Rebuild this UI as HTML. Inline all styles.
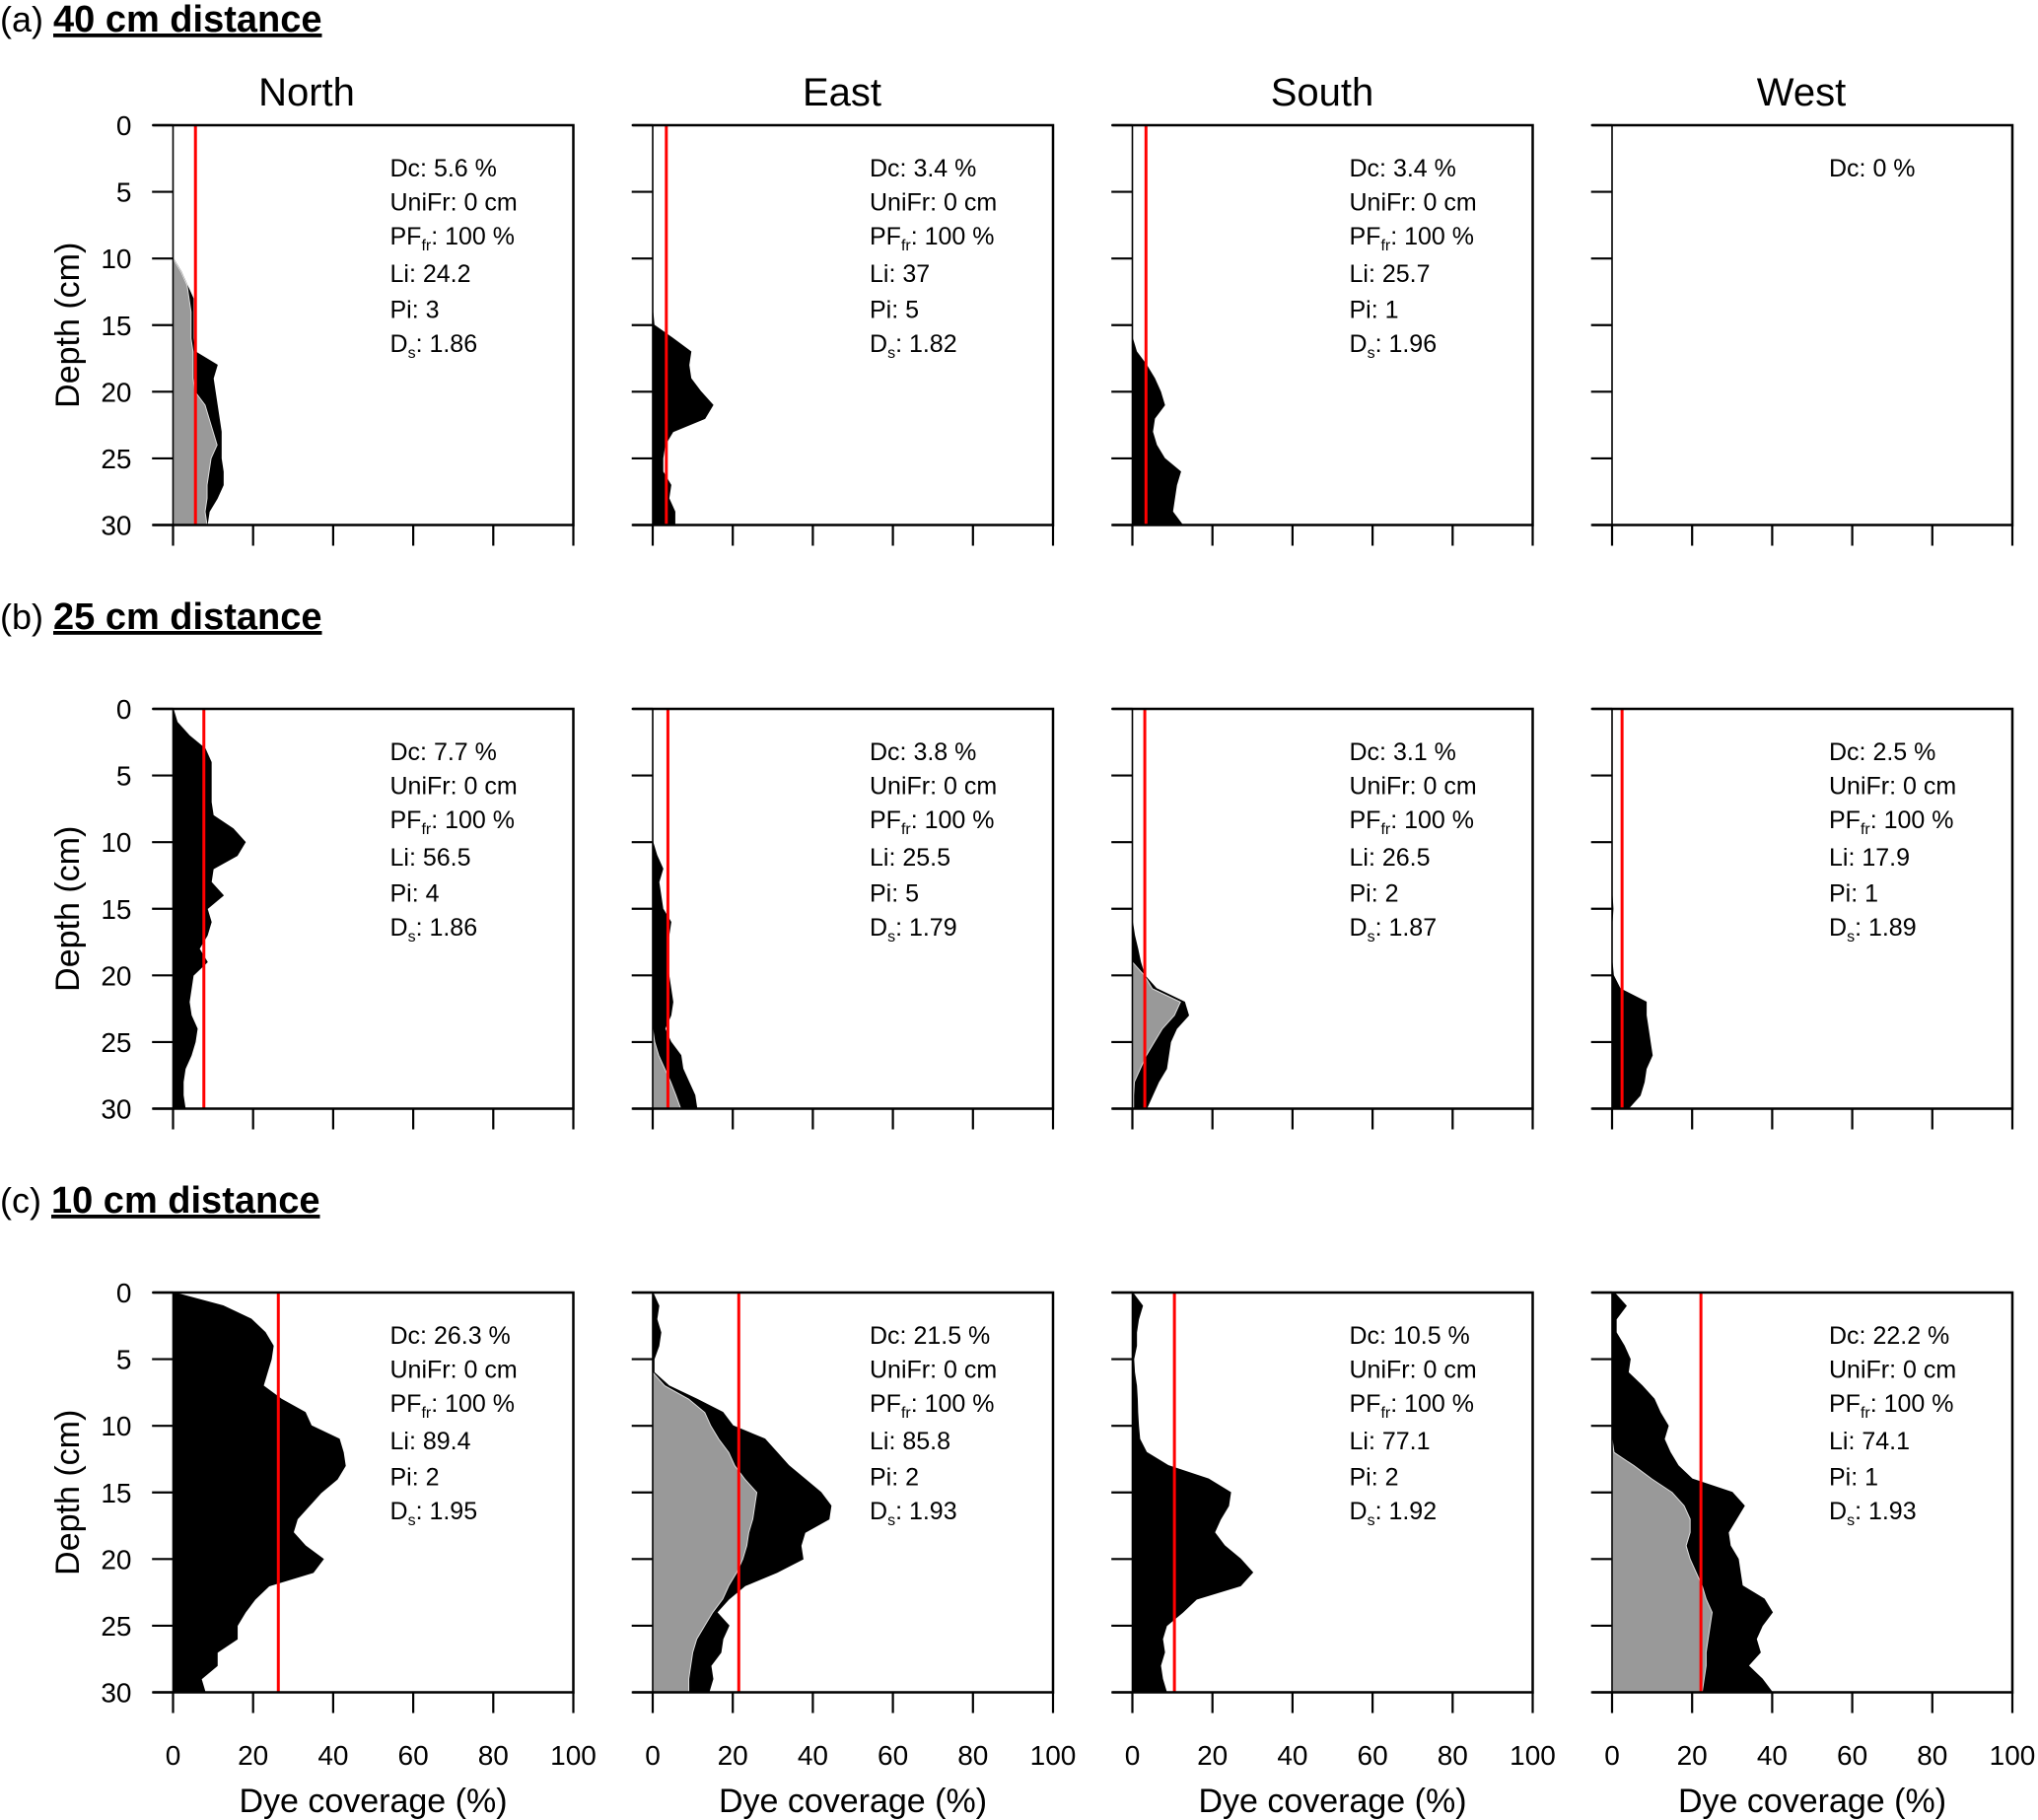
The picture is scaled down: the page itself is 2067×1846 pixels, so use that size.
<!DOCTYPE html>
<html><head><meta charset="utf-8"><style>
html,body{margin:0;padding:0;background:#fff}
svg{display:block;font-family:"Liberation Sans",sans-serif}
</style></head><body>
<svg id="fig" width="2067" height="1846" viewBox="0 0 2067 1846" xmlns="http://www.w3.org/2000/svg"></svg>
<script>
const depths=[0,1,2,3,4,5,6,7,8,9,10,11,12,13,14,15,16,17,18,19,20,21,22,23,24,25,26,27,28,29,30];
const rowTitles=["40 cm distance","25 cm distance","10 cm distance"];
const rowLetters=["(a)","(b)","(c)"];
const colNames=["North","East","South","West"];
const xTicks=[0,20,40,60,80,100];
const yTicks=[0,5,10,15,20,25,30];
// row a
const aN_black=[0,0,0,0,0,0,0,0,0,0,0,2,3.5,5,5,5,5,5.5,11,10,10.5,11,11.5,12,12,12,12.5,12.5,11,9,8.5];
const aN_grey=[0,0,0,0,0,0,0,0,0,0,0,2,3.5,4,4.5,4.5,4.5,5,5,5,5.5,8,9,10,11,9.5,9,8.5,8.5,8,8.5];
const aE_black=[0,0,0,0,0,0,0,0,0,0,0,0,0,0,0,0.3,5,9.5,9,9.5,12,15,13,5,3,2.5,2.5,4.5,4,5.5,5.5];
const aS_black=[0,0,0,0,0,0,0,0,0,0,0,0,0,0,0,0,0,1,3.5,5.5,7,8,5.5,5,6,8,12,11,10.5,10,12.5];
const aW_black=[0,0,0,0,0,0,0,0,0,0,0,0,0,0,0,0,0,0,0,0,0,0,0,0,0,0,0,0,0,0,0];
// row b
const bN_black=[0,1,4,8,9.5,9.5,9.5,9.5,10,15,18,16,10,9.5,12.5,8.5,9.5,8.5,6.5,8.5,5,4.5,4,4.5,6,5.5,4.5,3,2.5,2.5,3];
const bE_black=[0,0,0,0,0,0,0,0,0,0,0,1,2.5,1.5,2,2.5,4.5,4,3.5,3.5,4,4.5,5,4.5,3,4.5,7,7.5,9,10.5,11];
const bE_grey=[0,0,0,0,0,0,0,0,0,0,0,0,0,0,0,0,0,0,0,0,0,0,0,0,0,0.5,1.5,3,4.5,5.8,7];
const bS_black=[0,0,0,0,0,0,0,0,0,0,0,0,0,0,0,0,0,0.5,1.3,2,3,6,13,14,11,9.5,9,8.5,6.5,5,3.5];
const bS_grey=[0,0,0,0,0,0,0,0,0,0,0,0,0,0,0,0,0,0,0,0,3,5,12,10.5,7.5,5.5,3.5,2,0.5,0.3,0.3];
const bW_black=[0,0,0,0,0,0,0,0,0,0,0,0,0,0,0,0.2,0,0,0,0,0.3,2,8.5,8.5,9,9.5,10,8.5,8,7,4];
// row c
const cN_black=[0,12.5,19.5,23,25,24.5,23.5,22.5,27,33,34.5,41.5,42.5,43,41,37,34,31,30,33,37.5,35,24,20.5,18,16,16,11,11,7,8];
const cE_black=[0,1.5,1,2,1.5,0.3,0.3,4,11,17.5,20,28,31,34,38,42,44.5,44,38,37,37.5,31,23,19,16,19,17.5,17,14.5,15,14];
const cE_grey=[0,0,0,0,0,0,0,3,9,13,14.5,16.5,19,20.5,23,26,25.5,25,24,23.5,22.5,21,19,17.5,15,13,11,10,9.5,9,9];
const cS_black=[0,2.5,1.5,1,1,0.3,0.5,1,1.2,1.3,1.5,1.8,3.5,9,19,24.5,24,22,20.5,23,27,30,27,16,12.5,8.5,7.5,8,7,7.5,8.5];
const cW_black=[0.5,3.5,1,1,3,4.5,4,7.5,10.5,12,14,13,14.5,16.5,20,30,33,31,29,29.5,31.5,32,32.5,38,40,37.5,36,37,34,37.5,40];
const cW_grey=[0,0,0,0,0,0,0,0,0,0,0,0,0.5,5.5,10,15,18,19.5,19.5,18.5,19.5,21,22.5,23.5,25,24.5,24,23.5,23.5,23,22.5];
const blacks=[[aN_black,aE_black,aS_black,aW_black],[bN_black,bE_black,bS_black,bW_black],[cN_black,cE_black,cS_black,cW_black]];
const greys=[[aN_grey,null,null,null],[null,bE_grey,bS_grey,null],[null,cE_grey,null,cW_grey]];
const dcVals=[[5.6,3.4,3.4,0],[7.7,3.8,3.1,2.5],[26.3,21.5,10.5,22.2]];
const uniFr=[[0,0,0,null],[0,0,0,0],[0,0,0,0]];
const pfFr=[[100,100,100,null],[100,100,100,100],[100,100,100,100]];
const liVals=[["24.2","37","25.7",null],["56.5","25.5","26.5","17.9"],["89.4","85.8","77.1","74.1"]];
const piVals=[[3,5,1,null],[4,5,2,1],[2,2,2,1]];
const dsVals=[["1.86","1.82","1.96",null],["1.86","1.79","1.87","1.89"],["1.95","1.93","1.92","1.93"]];

const NS="http://www.w3.org/2000/svg";
const svg=document.getElementById('fig');
function mk(tag,attrs,parent){const e=document.createElementNS(NS,tag);for(const k in attrs)e.setAttribute(k,attrs[k]);(parent||svg).appendChild(e);return e;}
const colX0=[175.5,662,1148.5,1635];
const rowTop=[127,719,1311];
const PXU=4.06, H=405.5;
function xs(c,v){return colX0[c]+v*PXU;}
function ys(r,d){return rowTop[r]+d/30*H;}
const titleBase=[32,638,1230];

for(let r=0;r<3;r++){
  const t=mk('text',{x:0,y:titleBase[r],'font-size':36});
  
  
  t.appendChild(document.createTextNode(rowLetters[r]+' '));
  const b=mk('tspan',{'font-weight':'bold','text-decoration':'underline','font-size':38},t);
  b.textContent=rowTitles[r];
  for(let c=0;c<4;c++){
    const g=mk('g',{});
    
    
    const L=xs(c,-5),R=xs(c,100),T=ys(r,0),B=ys(r,30);
    const bl=blacks[r][c];
    let pts=[[xs(c,0),ys(r,0)]];
    for(let i=0;i<depths.length;i++)pts.push([xs(c,bl[i]),ys(r,depths[i])]);
    pts.push([xs(c,0),ys(r,30)]);
    const pb=mk('polygon',{points:pts.map(p=>p.join(',')).join(' '),fill:'#000',stroke:'#000','stroke-width':1.2},g);
    
    
    const gr=greys[r][c];
    if(gr){
      let gp=[[xs(c,0),ys(r,0)]];
      for(let i=0;i<depths.length;i++)gp.push([xs(c,gr[i]),ys(r,depths[i])]);
      gp.push([xs(c,0),ys(r,30)]);
      const pg=mk('polygon',{points:gp.map(p=>p.join(',')).join(' '),fill:'#999',stroke:'#ddd','stroke-width':1},g);
      
      
    }
    const zl=mk('line',{x1:xs(c,0),x2:xs(c,0),y1:T,y2:B,stroke:'#000','stroke-width':1.5},g);
    
    
    if(dcVals[r][c]>0){
      const rl=mk('line',{x1:xs(c,dcVals[r][c]),x2:xs(c,dcVals[r][c]),y1:T,y2:B,stroke:'#f00','stroke-width':3},g);
      
      
    }
    const fr=mk('path',{d:`M${L},${T}H${R}V${B}H${L}`,fill:'none',stroke:'#000','stroke-width':2.5},g);
    
    
    for(const d of yTicks){
      const tl=mk('line',{x1:L-1,x2:xs(c,0),y1:ys(r,d),y2:ys(r,d),stroke:'#000','stroke-width':2.2},g);
      
      
      if(c===0){
        const lb=mk('text',{x:xs(c,0)-42,y:ys(r,d)+10,'font-size':28,'text-anchor':'end'},g);
        
        
        lb.textContent=d;
      }
    }
    for(const v of xTicks){
      const tl=mk('line',{x1:xs(c,v),x2:xs(c,v),y1:B,y2:B+21,stroke:'#000','stroke-width':2.2},g);
      
      
      if(r===2){
        const lb=mk('text',{x:xs(c,v),y:1790,'font-size':28,'text-anchor':'middle'},g);
        
        
        lb.textContent=v;
      }
    }
    if(r===2){
      const xl=mk('text',{x:xs(c,50),y:1838,'font-size':34,'text-anchor':'middle'},g);
      
      
      xl.textContent='Dye coverage (%)';
    }
    if(c===0){
      const yl=mk('text',{x:0,y:0,'font-size':34,'text-anchor':'middle',transform:`translate(80,${T+H/2}) rotate(-90)`},g);
      
      
      yl.textContent='Depth (cm)';
    }
    if(r===0){
      const ct=[311,854,1341,1827][c];
      const tt=mk('text',{x:ct,y:107,'font-size':40,'text-anchor':'middle'},g);
      
      
      tt.textContent=colNames[c];
    }
    const sx=xs(c,0)+220;
    const offs=[52,86.5,121,159,195.6,230];
    const st=mk('g',{'font-size':25},g);
    
    
    function line(i,parts){
      const t=mk('text',{x:sx,y:T+offs[i]},st);
      for(const p of parts){
        const s=mk('tspan',p.sub?{'font-size':16,dy:6}:(p.up?{dy:-6}:{}),t);
        s.textContent=p.t;
      }
    }
    line(0,[{t:'Dc: '+dcVals[r][c]+' %'}]);
    if(liVals[r][c]!==null){
      line(1,[{t:'UniFr: '+uniFr[r][c]+' cm'}]);
      line(2,[{t:'PF'},{t:'fr',sub:1},{t:': '+pfFr[r][c]+' %',up:1}]);
      line(3,[{t:'Li: '+liVals[r][c]}]);
      line(4,[{t:'Pi: '+piVals[r][c]}]);
      line(5,[{t:'D'},{t:'s',sub:1},{t:': '+dsVals[r][c],up:1}]);
    }
  }
}
</script>
</body></html>
